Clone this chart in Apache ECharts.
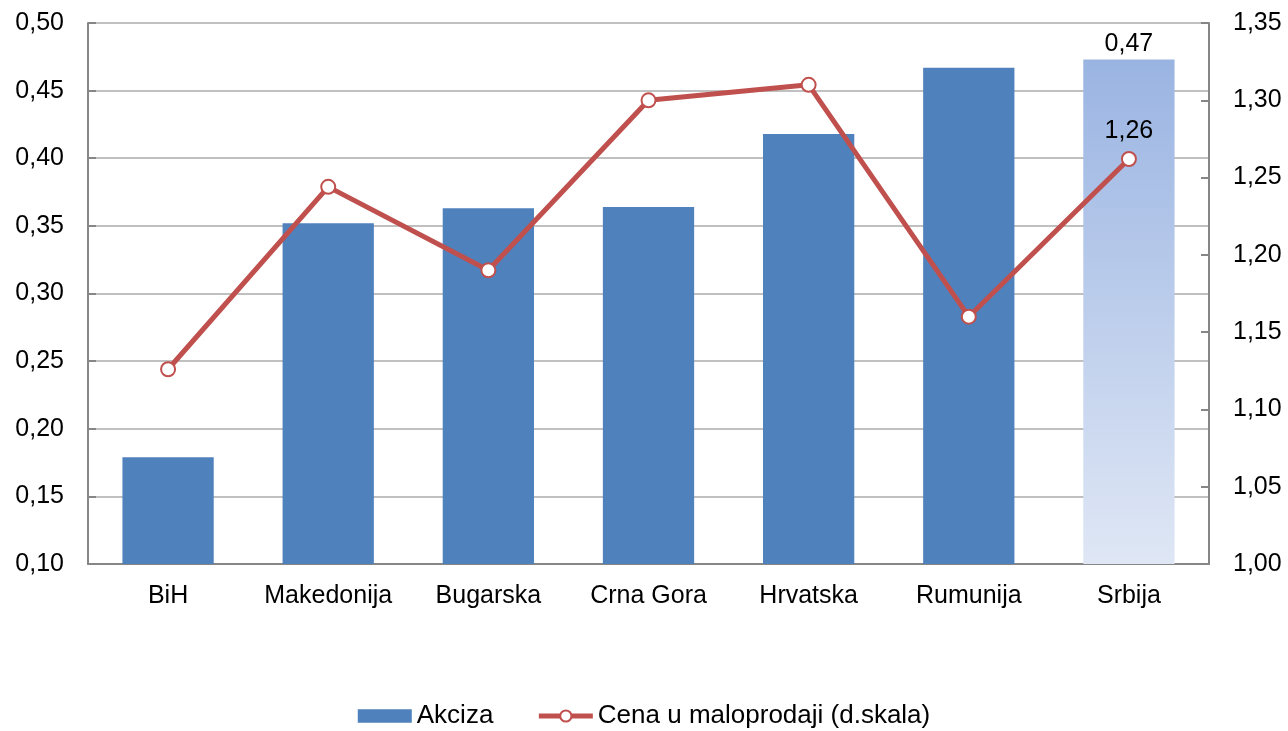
<!DOCTYPE html>
<html>
<head>
<meta charset="utf-8">
<script src="https://cdn.jsdelivr.net/npm/echarts@6/dist/echarts.min.js"></script>
<style>
  html, body { margin: 0; padding: 0; background: #fff; }
  #chart { width: 1288px; height: 731px; }
</style>
</head>
<body>
<div id="chart"></div>
<script>
const categories = ["BiH", "Makedonija", "Bugarska", "Crna Gora", "Hrvatska", "Rumunija", "Srbija"];
const akciza = [0.179, 0.352, 0.363, 0.364, 0.418, 0.467, 0.473];
const cena = [1.126, 1.244, 1.190, 1.300, 1.310, 1.160, 1.262];

const fmt = v => v.toFixed(2).replace(".", ",");
const last = categories.length - 1;

const barData = akciza.map((v, i) => {
  if (i !== last) return v;
  return {
    value: v,
    itemStyle: {
      color: {
        type: "linear", x: 0, y: 0, x2: 0, y2: 1,
        colorStops: [
          { offset: 0, color: "#9ab4e2" },
          { offset: 1, color: "#dfe7f5" }
        ]
      }
    },
    label: { show: true, position: "top", distance: 3, formatter: p => fmt(p.value) }
  };
});

const lineData = cena.map((v, i) => {
  if (i !== last) return v;
  return {
    value: v,
    label: { show: true, position: "top", distance: 7, formatter: p => fmt(p.value) }
  };
});

const chart = echarts.init(document.getElementById("chart"));
const axisText = { color: "#000", fontSize: 25, fontFamily: "Liberation Sans, Arial, sans-serif" };

chart.setOption({
  animation: false,
  textStyle: { fontFamily: "Liberation Sans, Arial, sans-serif" },
  grid: { left: 88, right: 79, top: 23, bottom: 167 },
  legend: {
    top: 698,
    left: "center",
    itemGap: 43,
    itemWidth: 54,
    itemHeight: 14,
    textStyle: { color: "#000", fontSize: 26 },
    data: [
      { name: "Akciza", icon: "path://M0,0h52v13h-52z" },
      { name: "Cena u maloprodaji (d.skala)", lineStyle: { width: 5, color: "#c0504d" } }
    ]
  },
  xAxis: {
    type: "category",
    data: categories,
    axisLine: { lineStyle: { color: "#868686", width: 2 } },
    axisTick: { show: false },
    axisLabel: Object.assign({ margin: 20, interval: 0 }, axisText)
  },
  yAxis: [
    {
      type: "value",
      min: 0.10, max: 0.50, interval: 0.05,
      axisLine: { show: true, lineStyle: { color: "#868686", width: 2 } },
      axisTick: { show: true, inside: true, length: 8, lineStyle: { color: "#868686", width: 2 } },
      splitLine: { lineStyle: { color: "#c0c0c0", width: 2 } },
      axisLabel: Object.assign({ margin: 24, formatter: fmt }, axisText)
    },
    {
      type: "value",
      min: 1.00, max: 1.35, interval: 0.05,
      axisLine: { show: true, lineStyle: { color: "#868686", width: 2 } },
      axisTick: { show: true, inside: true, length: 8, lineStyle: { color: "#868686", width: 2 } },
      splitLine: { show: false },
      axisLabel: Object.assign({ margin: 24, formatter: fmt }, axisText)
    }
  ],
  series: [
    {
      name: "Akciza",
      type: "bar",
      barWidth: "57%",
      itemStyle: { color: "#4f81bd" },
      label: { color: "#000", fontSize: 25 },
      data: barData
    },
    {
      name: "Cena u maloprodaji (d.skala)",
      type: "line",
      yAxisIndex: 1,
      symbol: "circle",
      symbolSize: 14,
      lineStyle: { color: "#c0504d", width: 5 },
      itemStyle: { color: "#fff", borderColor: "#c0504d", borderWidth: 2 },
      label: { color: "#000", fontSize: 25 },
      data: lineData
    }
  ]
});
</script>
</body>
</html>
